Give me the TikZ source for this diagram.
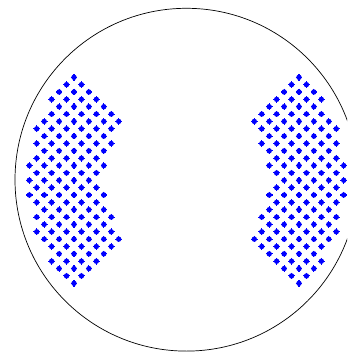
\documentclass[tikz,border=0pt]{standalone}
\usepackage{tikz}

\begin{document}
\begin{tikzpicture}[x=1pt, y=-1pt,
    shell/.style={draw=black, line width=0.7pt},
    tube/.pic={
      \fill[blue] (0,0) circle[radius=2.7];
      \draw[blue, line width=1.1pt] (-3.3,0) -- (3.3,0) (0,-3.3) -- (0,3.3);
    }
  ]
    \useasboundingbox (0,0) rectangle (347,352);
    \clip (0,0) rectangle (347,352);

    % shell outline (cut at the right edge)
    \coordinate (centre) at (186.4,179.7);
    \draw[shell] (centre) circle[radius=171.4];

    % tube rows: row / first column / number of tubes
    \foreach \k/\a/\n in {0/6/1, 1/5/2, 2/4/3, 3/3/4, 4/4/4, 5/3/5, 6/2/6,
                          7/1/6, 8/2/5, 9/1/6, 10/2/5, 11/1/5, 12/0/6, 13/1/5,
                          14/0/5, 15/1/5, 16/0/6, 17/1/5, 18/2/5, 19/1/6,
                          20/2/5, 21/1/6, 22/2/6, 23/3/5, 24/4/4, 25/3/4,
                          26/4/3, 27/5/2, 28/6/1} {
      \foreach \j in {1,...,\n} {
        \pgfmathsetmacro{\c}{\a+2*(\j-1)}
        \pgfmathsetmacro{\yy}{77.3+7.357*\k}
        \pgfmathsetmacro{\xl}{29.3+7.45*\c}
        \pgfmathsetmacro{\xr}{373-\xl}
        \pic at (\xl,\yy) {tube};
        \pic at (\xr,\yy) {tube};
      }
    }
  \end{tikzpicture}
\end{document}
